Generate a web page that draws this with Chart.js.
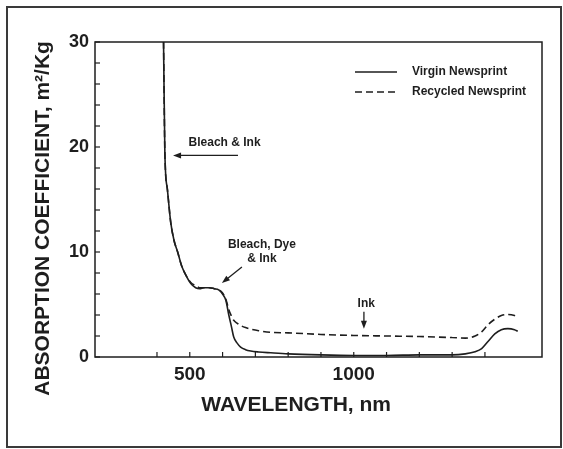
<!DOCTYPE html>
<html>
<head>
<meta charset="utf-8">
<script src="https://cdn.jsdelivr.net/npm/chart.js@4/dist/chart.umd.min.js"></script>
<style>
  html, body { margin: 0; padding: 0; background: #fff; }
  #wrap { width: 563px; height: 449px; position: relative; }
</style>
</head>
<body>
<div id="wrap"><canvas id="c" width="563" height="449"></canvas></div>
<script>
// ---- data ----
const wavelength = [420, 424, 432, 442, 452, 463, 475, 488, 503, 518, 530, 543, 560, 575, 588, 600, 610, 619, 627, 634, 645, 655, 670, 686, 710, 747, 800, 900, 1000, 1100, 1200, 1300, 1340, 1370, 1390, 1410, 1430, 1450, 1470, 1490, 1500];
const virginNewsprint = [30, 19.5, 15.9, 12.8, 11.1, 10.0, 8.7, 7.8, 7.0, 6.6, 6.5, 6.6, 6.6, 6.5, 6.4, 6.0, 5.4, 4.0, 2.9, 1.9, 1.3, 0.95, 0.7, 0.57, 0.48, 0.4, 0.3, 0.2, 0.15, 0.15, 0.2, 0.2, 0.3, 0.5, 0.8, 1.5, 2.2, 2.6, 2.7, 2.6, 2.45];
const recycledNewsprint = [30, 19.5, 15.9, 12.8, 11.1, 10.0, 8.7, 7.8, 7.1, 6.8, 6.6, 6.6, 6.6, 6.5, 6.4, 6.1, 5.5, 4.5, 3.9, 3.5, 3.2, 3.0, 2.8, 2.65, 2.5, 2.35, 2.3, 2.15, 2.05, 2.0, 1.95, 1.85, 1.8, 2.0, 2.4, 3.1, 3.6, 3.95, 4.05, 3.95, 3.8];
const seriesLabels = ['Virgin Newsprint', 'Recycled Newsprint'];
const xLabelTicks = [500, 1000, 1500];
const yLabelTicks = [0, 10, 20, 30];
const xTitle = 'WAVELENGTH, nm';
const yTitle = 'ABSORPTION COEFFICIENT, m\u00B2/Kg';
// annotations: text lines at (x, y) in data units; arrows from (x1,y1) to head (x2,y2)
const annotationTexts = [
  { lines: ['Bleach & Ink'], x: 606, y: 20.4 },
  { lines: ['Bleach, Dye', '& Ink'], x: 720, y: 10.67 },
  { lines: ['Ink'], x: 1038, y: 5.1 }
];
const annotationArrows = [
  { x1: 647, y1: 19.2, x2: 449, y2: 19.2 },
  { x1: 659, y1: 8.57, x2: 598, y2: 7.05 },
  { x1: 1031, y1: 4.3, x2: 1031, y2: 2.7 }
];

const INK = '#1e1e1e';
const FONT = '"Liberation Sans", Arial, sans-serif';

function toPoints(xs, ys) { return xs.map((x, i) => ({ x: x, y: ys[i] })); }

const decorPlugin = {
  id: 'decor',
  beforeDraw(chart) {
    const ctx = chart.ctx;
    ctx.save();
    ctx.fillStyle = '#fff';
    ctx.fillRect(0, 0, chart.width, chart.height);
    ctx.restore();
  },
  afterDraw(chart) {
    const ctx = chart.ctx;
    const a = chart.chartArea;
    const xs = chart.scales.x, ys = chart.scales.y;
    ctx.save();
    // outer frame
    ctx.strokeStyle = '#3a3a3a';
    ctx.lineWidth = 2;
    ctx.strokeRect(7, 7, 554, 440);
    // plot box
    ctx.strokeStyle = INK;
    ctx.lineWidth = 1.5;
    ctx.strokeRect(a.left, a.top, a.right - a.left, a.bottom - a.top);
    // inward ticks
    ctx.lineWidth = 1.2;
    xs.ticks.forEach(t => {
      const px = xs.getPixelForValue(t.value);
      ctx.beginPath(); ctx.moveTo(px, a.bottom); ctx.lineTo(px, a.bottom - 5); ctx.stroke();
    });
    ys.ticks.forEach(t => {
      const py = ys.getPixelForValue(t.value);
      ctx.beginPath(); ctx.moveTo(a.left, py); ctx.lineTo(a.left + 5, py); ctx.stroke();
    });
    // axis titles
    ctx.fillStyle = INK;
    ctx.textAlign = 'center';
    ctx.textBaseline = 'middle';
    ctx.font = 'bold 21px ' + FONT;
    ctx.fillText(xTitle, a.left + (a.right - a.left) * 0.45, a.bottom + 48);
    ctx.save();
    ctx.translate(43, a.top + (a.bottom - a.top) * 0.56);
    ctx.rotate(-Math.PI / 2);
    ctx.font = 'bold 21px ' + FONT;
    ctx.fillText(yTitle, 0, 0);
    ctx.restore();
    // legend
    const lx = a.right - 187, ly = a.top + 30;
    chart.data.datasets.forEach((ds, i) => {
      const y = ly + i * 20;
      ctx.strokeStyle = INK;
      ctx.lineWidth = 1.4;
      ctx.setLineDash(ds.borderDash || []);
      ctx.beginPath(); ctx.moveTo(lx, y); ctx.lineTo(lx + 42, y); ctx.stroke();
      ctx.setLineDash([]);
      ctx.textAlign = 'left';
      ctx.font = 'bold 12px ' + FONT;
      ctx.fillText(ds.label, lx + 57, y);
    });
    // annotations
    ctx.textAlign = 'center';
    ctx.font = 'bold 12px ' + FONT;
    annotationTexts.forEach(an => {
      const px = xs.getPixelForValue(an.x), py = ys.getPixelForValue(an.y);
      an.lines.forEach((ln, k) => ctx.fillText(ln, px, py + k * 14));
    });
    annotationArrows.forEach(ar => {
      const x1 = xs.getPixelForValue(ar.x1), y1 = ys.getPixelForValue(ar.y1);
      const x2 = xs.getPixelForValue(ar.x2), y2 = ys.getPixelForValue(ar.y2);
      const ang = Math.atan2(y2 - y1, x2 - x1);
      const hl = 8, hw = 3;
      ctx.strokeStyle = INK; ctx.lineWidth = 1.3;
      ctx.beginPath(); ctx.moveTo(x1, y1);
      ctx.lineTo(x2 - Math.cos(ang) * hl * 0.8, y2 - Math.sin(ang) * hl * 0.8); ctx.stroke();
      ctx.beginPath();
      ctx.moveTo(x2, y2);
      ctx.lineTo(x2 - Math.cos(ang) * hl + Math.sin(ang) * hw, y2 - Math.sin(ang) * hl - Math.cos(ang) * hw);
      ctx.lineTo(x2 - Math.cos(ang) * hl - Math.sin(ang) * hw, y2 - Math.sin(ang) * hl + Math.cos(ang) * hw);
      ctx.closePath(); ctx.fillStyle = INK; ctx.fill();
    });
    ctx.restore();
  }
};

new Chart(document.getElementById('c'), {
  type: 'line',
  data: {
    datasets: [
      { label: seriesLabels[0], data: toPoints(wavelength, virginNewsprint), borderColor: INK, borderWidth: 1.6, pointRadius: 0, cubicInterpolationMode: 'monotone', fill: false },
      { label: seriesLabels[1], data: toPoints(wavelength, recycledNewsprint), borderColor: INK, borderWidth: 1.6, borderDash: [7, 4], pointRadius: 0, cubicInterpolationMode: 'monotone', fill: false }
    ]
  },
  options: {
    responsive: false,
    animation: false,
    layout: { padding: { top: 42, right: 21, left: 0, bottom: 0 } },
    plugins: { legend: { display: false }, tooltip: { enabled: false } },
    scales: {
      x: {
        type: 'linear', min: 211, max: 1574,
        grid: { display: false, drawTicks: false },
        border: { display: false },
        afterBuildTicks: s => { s.ticks = s.ticks.filter(t => t.value % 100 === 0); },
        afterFit: s => { s.height = 92; },
        ticks: {
          stepSize: 100, autoSkip: false, maxRotation: 0, padding: 6, color: INK,
          font: { family: FONT, size: 19, weight: 'bold' },
          callback: v => xLabelTicks.includes(v) ? String(v) : ''
        }
      },
      y: {
        min: 0, max: 30,
        grid: { display: false, drawTicks: false },
        border: { display: false },
        afterFit: s => { s.width = 95; },
        ticks: {
          stepSize: 2, autoSkip: false, padding: 6, color: INK,
          font: { family: FONT, size: 18, weight: 'bold' },
          callback: v => yLabelTicks.includes(v) ? String(v) : ''
        }
      }
    }
  },
  plugins: [decorPlugin]
});
</script>
</body>
</html>
